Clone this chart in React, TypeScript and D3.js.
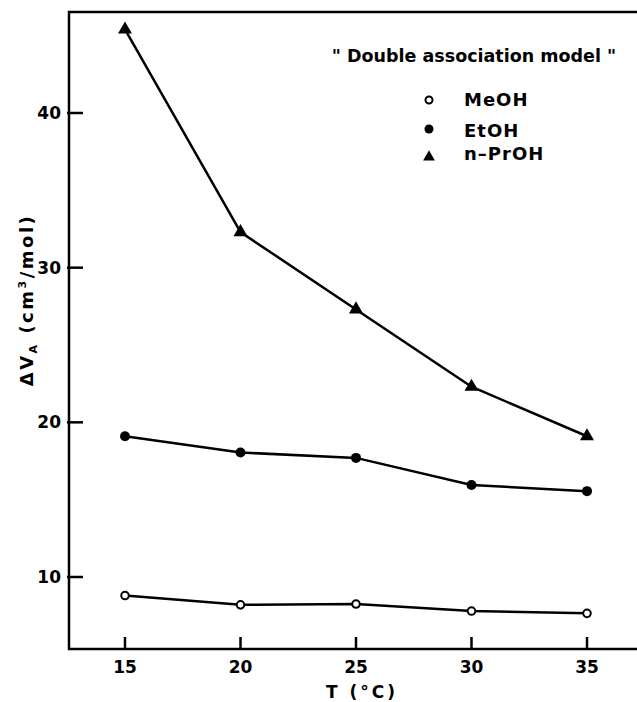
import React from 'react';
import * as d3 from 'd3';

// temperatures (°C)
const temps = [15, 20, 25, 30, 35];
// ΔV_A values (cm3/mol)
const meoh = [8.8, 8.2, 8.25, 7.8, 7.65];
const etoh = [19.1, 18.05, 17.7, 15.95, 15.55];
const nproh = [45.4, 32.3, 27.3, 22.3, 19.1];

const xTicks = [15, 20, 25, 30, 35];
const yTicks = [10, 20, 30, 40];

const W = 637;
const H = 702;
const FONT = '"DejaVu Sans", sans-serif';

const App = () => {
  // frame edges
  const left = 69;
  const top = 12;
  const bottom = 649;

  const x = d3.scaleLinear().domain([15, 35]).range([125, 587]);
  const y = d3.scaleLinear().domain([10, 40]).range([577, 113]);

  const line = d3.line<number>()
    .x((_, i) => x(temps[i]))
    .y(d => y(d));

  const tri = d3.symbol().type(d3.symbolTriangle).size(85)();

  return (
    <svg width={W} height={H} style={{ position: 'absolute', left: 0, top: 0, background: '#fff' }}>
      {/* frame */}
      <path d={`M${W},${top}H${left}V${bottom}H${W}`} fill="none" stroke="#000" strokeWidth={2.5} />

      {/* y ticks */}
      {yTicks.map(t => (
        <g key={'y' + t}>
          <line x1={left - 2} x2={left + 14} y1={y(t)} y2={y(t)} stroke="#000" strokeWidth={2.5} />
          <text x={left - 8} y={y(t) + 6} textAnchor="end" fontFamily={FONT} fontWeight="bold" fontSize={17}>{t}</text>
        </g>
      ))}

      {/* x ticks */}
      {xTicks.map(t => (
        <g key={'x' + t}>
          <line x1={x(t)} x2={x(t)} y1={bottom} y2={bottom - 12} stroke="#000" strokeWidth={2.5} />
          <text x={x(t)} y={673} textAnchor="middle" fontFamily={FONT} fontWeight="bold" fontSize={17}>{t}</text>
        </g>
      ))}

      {/* axis titles */}
      <text x={362} y={698} textAnchor="middle" fontFamily={FONT} fontWeight="bold" fontSize={17} letterSpacing={3}>T (°C)</text>
      <text transform="translate(33,300) rotate(-90)" textAnchor="middle" fontFamily={FONT} fontWeight="bold" fontSize={18} letterSpacing={2.5}>
        ΔV<tspan fontSize={11} dy={4}>A</tspan><tspan dy={-4}> (cm</tspan><tspan fontSize={11} dy={-7}>3</tspan><tspan dy={7}>/mol)</tspan>
      </text>

      {/* series lines */}
      <path d={line(meoh) || ''} fill="none" stroke="#000" strokeWidth={2.5} />
      <path d={line(etoh) || ''} fill="none" stroke="#000" strokeWidth={2.5} />
      <path d={line(nproh) || ''} fill="none" stroke="#000" strokeWidth={2.5} />

      {/* markers */}
      {meoh.map((v, i) => (
        <circle key={'m' + i} cx={x(temps[i])} cy={y(v)} r={3.8} fill="#fff" stroke="#000" strokeWidth={2} />
      ))}
      {etoh.map((v, i) => (
        <circle key={'e' + i} cx={x(temps[i])} cy={y(v)} r={5} fill="#000" />
      ))}
      {nproh.map((v, i) => (
        <path key={'p' + i} d={tri || ''} transform={`translate(${x(temps[i])},${y(v)})`} fill="#000" />
      ))}

      {/* legend */}
      <text x={474} y={62} textAnchor="middle" fontFamily={FONT} fontWeight="bold" fontSize={17.5}>" Double association model "</text>
      <circle cx={429} cy={100} r={3.5} fill="#fff" stroke="#000" strokeWidth={2} />
      <text x={464} y={106} fontFamily={FONT} fontWeight="bold" fontSize={18} letterSpacing={1}>MeOH</text>
      <circle cx={429} cy={129} r={4.5} fill="#000" />
      <text x={464} y={137} fontFamily={FONT} fontWeight="bold" fontSize={18} letterSpacing={1}>EtOH</text>
      <path d={d3.symbol().type(d3.symbolTriangle).size(60)() || ''} transform="translate(429,157)" fill="#000" />
      <text x={464} y={160} fontFamily={FONT} fontWeight="bold" fontSize={18} letterSpacing={1}>n–PrOH</text>
    </svg>
  );
};

export default App;
